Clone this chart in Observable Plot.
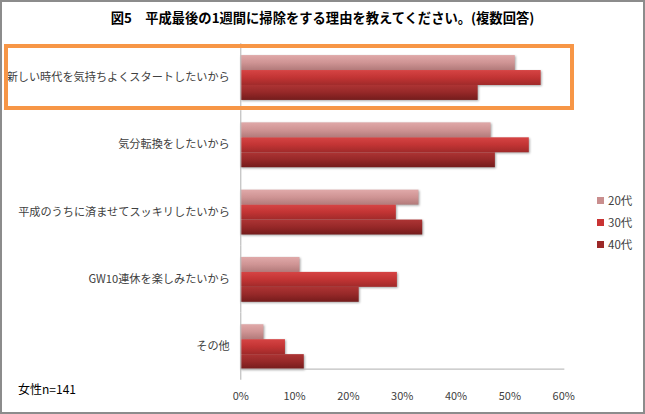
<!DOCTYPE html>
<html>
<head>
<meta charset="utf-8">
<script src="https://cdn.jsdelivr.net/npm/d3@7"></script>
<script src="https://cdn.jsdelivr.net/npm/@observablehq/plot@0.6"></script>
<style>
  html, body { margin: 0; padding: 0; background: #fff; }
  #wrap { position: relative; width: 645px; height: 414px; box-sizing: border-box; border: 2px solid #8c8c8c; overflow: hidden; font-family: "Noto Sans CJK JP", sans-serif; }
  #chart { position: absolute; left: -2px; top: -2px; }
  #title { position: absolute; left: 0; top: 6px; width: 641px; text-align: center; font-size: 13.3px; font-weight: bold; color: #000; }
  #note { position: absolute; left: 16px; top: 378px; font-size: 12px; color: #000; }
  #legend { position: absolute; left: 595px; top: 187px; font-size: 11.5px; color: #404040; }
  #legend div { height: 22px; display: flex; align-items: center; }
  #legend span.sw { display: inline-block; width: 7px; height: 7px; margin-right: 4px; }
  #hl { position: absolute; left: 2px; top: 42px; width: 570px; height: 66px; box-sizing: border-box; border: 4px solid #f79646; }
</style>
</head>
<body>
<div id="wrap">
  <div id="chart"></div>
  <div id="title"></div>
  <div id="legend"></div>
  <div id="note"></div>
  <div id="hl"></div>
</div>
<script>
const titleText = "図5\u3000平成最後の1週間に掃除をする理由を教えてください。(複数回答)";
const noteText = "女性n=141";
const categories = [
  "新しい時代を気持ちよくスタートしたいから",
  "気分転換をしたいから",
  "平成のうちに済ませてスッキリしたいから",
  "GW10連休を楽しみたいから",
  "その他"
];
const ages = ["20代", "30代", "40代"];
const values20 = [0.510, 0.465, 0.331, 0.110, 0.043];
const values30 = [0.558, 0.536, 0.289, 0.291, 0.083];
const values40 = [0.441, 0.473, 0.338, 0.220, 0.118];
const xTicks = [0, 0.1, 0.2, 0.3, 0.4, 0.5, 0.6];
const legendColors = ["#c98e8e", "#c93333", "#9c2828"];
const gradStops = [
  ["#e0a9a9", "#cf9494", "#b27a7a"],
  ["#d64444", "#c23434", "#a02a2a"],
  ["#ad3434", "#962828", "#741c1c"]
];

const rows = [];
categories.forEach((c, i) => {
  rows.push({cat: c, age: ages[0], v: values20[i]});
  rows.push({cat: c, age: ages[1], v: values30[i]});
  rows.push({cat: c, age: ages[2], v: values40[i]});
});

document.getElementById("title").textContent = titleText;
document.getElementById("note").textContent = noteText;
const leg = document.getElementById("legend");
ages.forEach((a, i) => {
  const d = document.createElement("div");
  const s = document.createElement("span");
  s.className = "sw";
  s.style.background = legendColors[i];
  d.appendChild(s);
  d.appendChild(document.createTextNode(a));
  leg.appendChild(d);
});

const plot = Plot.plot({
  width: 645,
  height: 414,
  marginLeft: 241,
  marginRight: 80,
  marginTop: 43.5,
  marginBottom: 33,
  style: {fontFamily: "'Noto Sans CJK JP', sans-serif", background: "transparent"},
  x: {domain: [0, 0.6]},
  y: {domain: ages, padding: 0, axis: null},
  fy: {domain: categories, paddingInner: 1/3, paddingOuter: 1/6, round: false, label: null},
  color: {domain: ages, range: ["url(#g20)", "url(#g30)", "url(#g40)"]},
  marks: [
    Plot.barX(rows, {fy: "cat", y: "age", x: "v", fill: "age", imageFilter: "drop-shadow(1px 1px 1px rgba(0,0,0,0.35))"}),
    Plot.ruleX([0], {stroke: "#bfbfbf", strokeWidth: 1.2, insetTop: -11.25, insetBottom: -11.25}),
    Plot.frame({anchor: "bottom", facet: "super", stroke: "#bfbfbf", strokeWidth: 1.2}),
    Plot.axisFy({anchor: "left", tickSize: 0, tickPadding: 11, fontSize: 11.2, fill: "#404040", label: null}),
    Plot.axisX({anchor: "bottom", ticks: xTicks, tickFormat: d3.format(".0%"), tickSize: 0, tickPadding: 23, fontSize: 11, fill: "#404040", label: null})
  ]
});

const svg = d3.select(plot);
const defs = svg.insert("defs", ":first-child");
["g20", "g30", "g40"].forEach((id, i) => {
  const g = defs.append("linearGradient").attr("id", id)
    .attr("x1", 0).attr("y1", 0).attr("x2", 0).attr("y2", 1);
  g.append("stop").attr("offset", "0%").attr("stop-color", gradStops[i][0]);
  g.append("stop").attr("offset", "50%").attr("stop-color", gradStops[i][1]);
  g.append("stop").attr("offset", "100%").attr("stop-color", gradStops[i][2]);
});
document.getElementById("chart").appendChild(plot);
</script>
</body>
</html>
